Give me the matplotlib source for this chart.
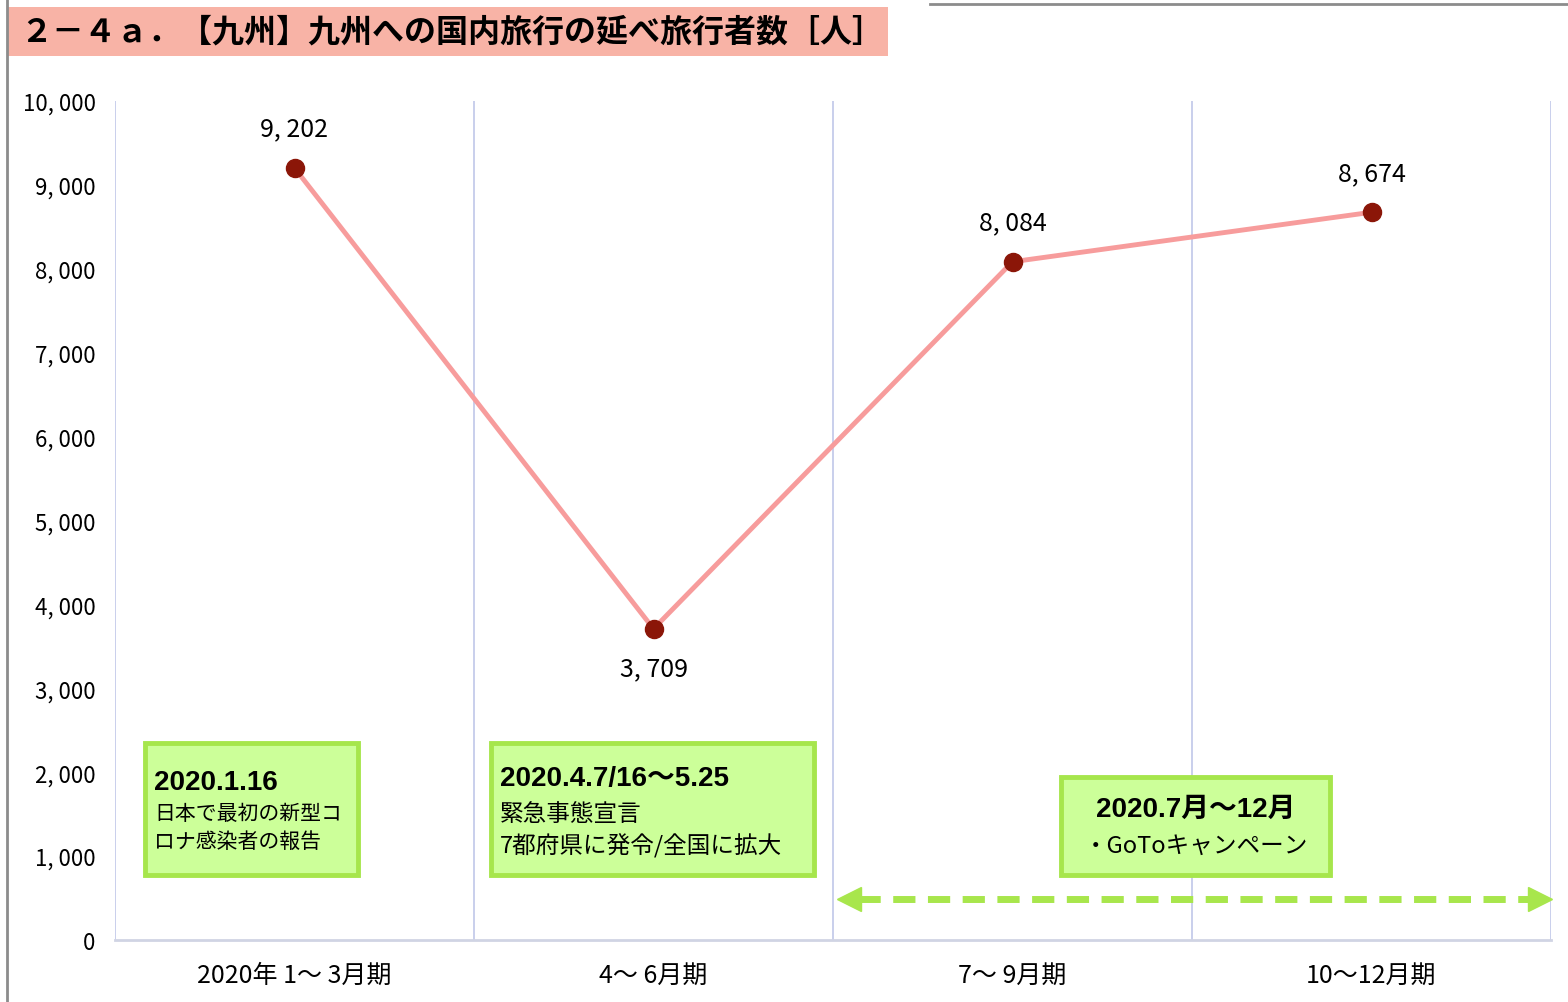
import matplotlib
matplotlib.use("Agg")
import matplotlib.pyplot as plt
from matplotlib.patches import Rectangle
from matplotlib.lines import Line2D

plt.rcParams['font.family'] = ['Noto Sans CJK JP', 'DejaVu Sans']

# data
periods = ['2020年 1～ 3月期', '4～ 6月期', '7～ 9月期', '10～12月期']
travelers = [9202, 3709, 8084, 8674]
label_pos = ['above', 'below', 'above', 'above']
y_ticks = list(range(0, 10001, 1000))

title = '２－４ａ．【九州】九州への国内旅行の延べ旅行者数［人］'
notes = [
    ('2020.1.16', '日本で最初の新型コ\nロナ感染者の報告'),
    ('2020.4.7/16～5.25', '緊急事態宣言\n7都府県に発令/全国に拡大'),
    ('2020.7月～12月', '・GoToキャンペーン'),
]

W, H = 1568, 1003
fig = plt.figure(figsize=(W / 100, H / 100), dpi=100)


def fx(px):
    return px / W


def fy(py):
    return 1 - py / H


# frame lines of the page
fig.add_artist(Line2D([fx(7), fx(7)], [0, 1], color='#8c8c8c', lw=2))
fig.add_artist(Line2D([fx(930), 1], [fy(5), fy(5)], color='#8c8c8c', lw=2))

# title band
fig.add_artist(Rectangle((fx(8), fy(57)), fx(880), fy(8) - fy(57),
                         facecolor='#F8B3A6', edgecolor='none'))
fig.text(fx(20), fy(33), title, fontsize=23, fontweight='bold',
         va='center', ha='left')

ax = fig.add_axes([fx(115), fy(941), fx(1551) - fx(115), fy(102) - fy(941)])
x = list(range(len(periods)))
ax.plot(x, travelers, color='#F79C9C', lw=3.5, zorder=3)
ax.plot(x, travelers, 'o', color='#8B1608', ms=13, zorder=4)

for xi, v, pos in zip(x, travelers, label_pos):
    off = 19 if pos == 'above' else -19
    ax.annotate(f'{v:,}'.replace(',', ', '), (xi, v), xytext=(0, off),
                textcoords='offset points', ha='center',
                va='bottom' if pos == 'above' else 'top', fontsize=18)

ax.set_xlim(-0.5, len(periods) - 0.5)
ax.set_ylim(0, 10000)
ax.set_yticks(y_ticks)
ax.set_yticklabels([f'{t:,}'.replace(',', ', ') for t in y_ticks], fontsize=16)
ax.set_xticks(x)
ax.set_xticklabels(periods, fontsize=18)
ax.tick_params(length=0, pad=14)
ax.tick_params(axis='x', pad=16)

for b in [i - 0.5 for i in range(len(periods) + 1)]:
    ax.axvline(b, color='#C5CCEA', lw=1.3, zorder=1)
for s in ['top', 'left', 'right']:
    ax.spines[s].set_visible(False)
ax.spines['bottom'].set_color('#D0D4E4')
ax.spines['bottom'].set_linewidth(2)

# note boxes (pixel boxes: left, top, right, bottom)
boxes = [(145, 744, 358, 876), (491, 744, 814, 876), (1061, 778, 1330, 876)]
head_y = [783, 779]
body_y = [815, 815]
body_fs = [15, 17]
body_ls = [1.33, 1.4]
for (l, t, r, b), (head, body), i in zip(boxes, notes, range(3)):
    fig.add_artist(Rectangle((fx(l), fy(b)), fx(r - l), fy(t) - fy(b),
                             facecolor='#CCFF99', edgecolor='#A6E64C', lw=3.5))
    if i < 2:
        fig.text(fx(l + 9), fy(head_y[i]), head, fontsize=20, fontweight='bold',
                 family=['Liberation Sans', 'Noto Sans CJK JP'], va='center')
        fig.text(fx(l + 9), fy(body_y[i] - 12), body, fontsize=body_fs[i],
                 va='top', linespacing=body_ls[i])
    else:
        fig.text(fx((l + r) / 2), fy(810), head, fontsize=20,
                 fontweight='bold', family=['Liberation Sans', 'Noto Sans CJK JP'],
                 va='center', ha='center')
        fig.text(fx((l + r) / 2), fy(846), body, fontsize=17,
                 va='center', ha='center')

# GoTo period arrow
ay = 490
ax.plot([1.57, 3.44], [ay, ay], color='#A8E64C', lw=5, dashes=(3.2, 1.8),
        clip_on=False, zorder=3)
ax.plot([1.545], [ay], marker='<', color='#A8E64C', ms=17, clip_on=False)
ax.plot([3.47], [ay], marker='>', color='#A8E64C', ms=17, clip_on=False)

fig.savefig('out.png', dpi=100)
